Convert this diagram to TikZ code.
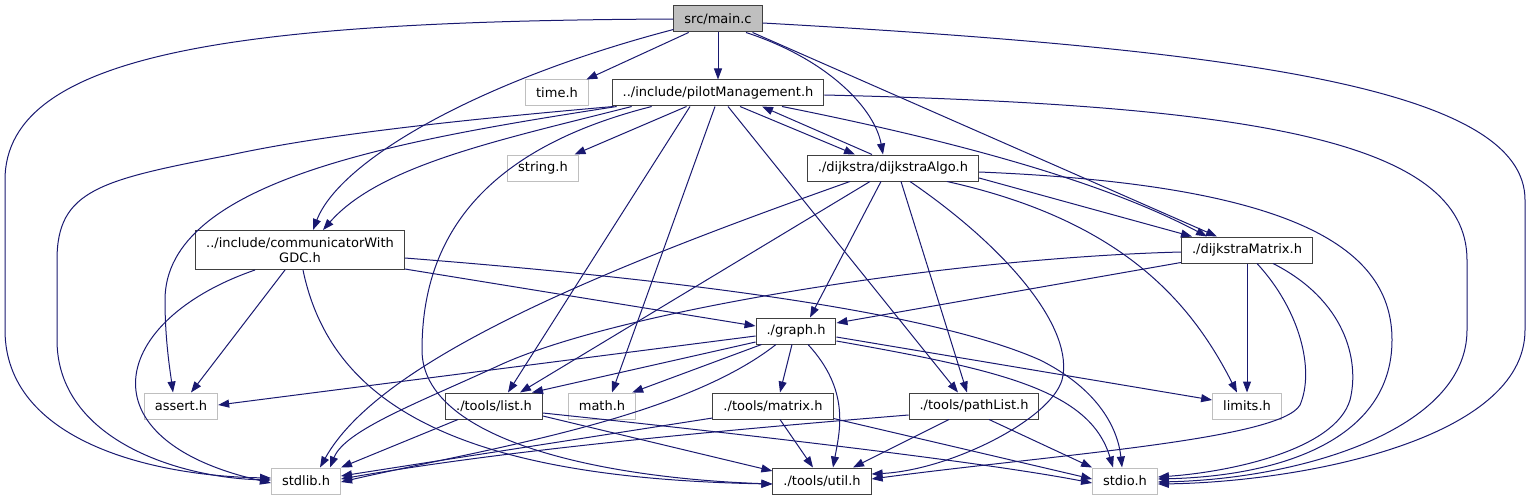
\documentclass[tikz,border=0pt]{standalone}
\usepackage{fontspec}
\setmainfont{DejaVu Sans}
\usetikzlibrary{arrows.meta}
\definecolor{edge}{HTML}{191970}
\definecolor{frame}{HTML}{404040}
\definecolor{sysgray}{HTML}{BFBFBF}
\tikzset{
  fbox/.style={draw=frame,line width=1pt,fill=white,inner xsep=10.5pt,inner ysep=2pt,minimum height=26pt,align=center,font=\fontsize{13}{15}\selectfont},
  fboxm/.style={fbox,fill=sysgray},
  fboxs/.style={fbox,draw=sysgray},
  dep/.style={-{Triangle[length=11pt,width=8pt]},draw=edge,line width=1pt},
}

\begin{document}
\begin{tikzpicture}[x=1pt,y=-1pt]
  \useasboundingbox (0,0) rectangle (1533,500);
  % files
  \node[fboxm] (main) at (718,19) {src/main.c};
  \node[fboxs] (time) at (557,93) {time.h};
  \node[fbox] (pilot) at (718,93) {../include/pilotManagement.h};
  \node[fboxs] (string) at (543,168) {string.h};
  \node[fbox] (algo) at (893,168) {./dijkstra/dijkstraAlgo.h};
  \node[fbox,minimum height=39pt] (comm) at (300,250) {../include/communicatorWith\\GDC.h};
  \node[fbox] (dmat) at (1247,250) {./dijkstraMatrix.h};
  \node[fbox] (graph) at (796,331) {./graph.h};
  \node[fboxs] (assert) at (181,406) {assert.h};
  \node[fbox] (list) at (494,406) {./tools/list.h};
  \node[fboxs] (math) at (602,406) {math.h};
  \node[fbox] (matrix) at (773,406) {./tools/matrix.h};
  \node[fbox] (pathlist) at (974,406) {./tools/pathList.h};
  \node[fboxs] (limits) at (1247,406) {limits.h};
  \node[fboxs] (stdlib) at (306,481) {stdlib.h};
  \node[fbox] (util) at (822,481) {./tools/util.h};
  \node[fboxs] (stdio) at (1125,481) {stdio.h};

  % src/main.c
  \draw[dep] (main.west) .. controls (250,21) and (5,50) .. (5,180) -- (5,330) .. controls (5,440) and (150,476) .. ([yshift=3pt]stdlib.west);
  \draw[dep] (main) -- (time);
  \draw[dep] (main) -- (pilot);
  \draw[dep] ([yshift=3pt]main.south west) .. controls (480,80) and (340,160) .. ([xshift=13pt]comm.north);
  \draw[dep] ([xshift=28pt]main.south) .. controls (830,60) and (875,110) .. ([xshift=-10pt]algo.north);
  \draw[dep] ([xshift=-10pt]main.south east) -- ([xshift=-30pt]dmat.north);
  \draw[dep] ([yshift=-4pt]main.east) .. controls (1250,50) and (1525,90) .. (1525,200) -- (1525,330) .. controls (1525,440) and (1300,482) .. ([yshift=-3pt]stdio.east);

  % ../include/pilotManagement.h
  \draw[dep] ([xshift=2pt]pilot.south west) .. controls (400,125) and (300,140) .. (230,155) .. controls (100,180) and (57,190) .. (57,260) -- (57,340) .. controls (57,440) and (180,478) .. ([yshift=1pt]stdlib.west);
  \draw[dep] ([xshift=5pt]pilot.south west) .. controls (400,140) and (165,180) .. (165,300) .. controls (165,340) and (170,370) .. ([xshift=-8pt]assert.north);
  \draw[dep] ([xshift=20pt]pilot.south west) .. controls (500,140) and (380,165) .. ([xshift=23pt]comm.north);
  \draw[dep] ([xshift=40pt]pilot.south west) .. controls (480,150) and (422,240) .. (422,350) .. controls (422,440) and (600,478) .. ([yshift=-3pt]util.west);
  \draw[dep] (pilot) -- (string);
  \draw[dep] ([xshift=-28pt]pilot.south) -- ([xshift=14pt]list.north);
  \draw[dep] ([xshift=-3pt]pilot.south) -- ([xshift=10pt]math.north);
  \draw[dep] ([xshift=10pt]pilot.south) -- ([xshift=-16pt]pathlist.north);
  \draw[dep] ([xshift=22pt]pilot.south) -- ([xshift=-38pt]algo.north);
  \draw[dep] ([xshift=64pt]pilot.south) .. controls (950,140) and (1100,180) .. ([xshift=-40pt]dmat.north);
  \draw[dep] ([yshift=-2pt]pilot.east) .. controls (1250,105) and (1467,140) .. (1467,260) -- (1467,330) .. controls (1467,430) and (1300,479) .. ([yshift=-1pt]stdio.east);

  % ../include/communicatorWithGDC.h
  \draw[dep] ([xshift=-15pt]comm.south) -- ([xshift=10pt]assert.north);
  \draw[dep] ([xshift=-45pt]comm.south) .. controls (110,320) and (80,440) .. ([yshift=-2pt]stdlib.west);
  \draw[dep] ([xshift=3pt]comm.south) .. controls (330,400) and (450,478) .. ([yshift=-3pt]util.west);
  \draw[dep] ([yshift=1pt]comm.south east) -- ([yshift=5pt]graph.west);
  \draw[dep] ([yshift=-8pt]comm.east) .. controls (750,285) and (950,320) .. (1040,360) .. controls (1100,390) and (1118,430) .. ([xshift=-3pt]stdio.north);

  % ./dijkstra/dijkstraAlgo.h
  \draw[dep] ([xshift=-21pt]algo.north) -- ([xshift=44pt]pilot.south);
  \draw[dep] ([yshift=-10pt]algo.east) -- ([xshift=-55pt]dmat.north);
  \draw[dep] ([xshift=-12pt]algo.south) -- ([xshift=14pt]graph.north);
  \draw[dep] ([xshift=-23pt]algo.south) -- ([xshift=26pt]list.north);
  \draw[dep] ([xshift=8pt]algo.south) -- ([xshift=-7pt]pathlist.north);
  \draw[dep] ([xshift=-43pt]algo.south) .. controls (600,270) and (380,360) .. ([xshift=14pt]stdlib.north);
  \draw[dep] ([xshift=17pt]algo.south) .. controls (1010,250) and (1075,330) .. (1062,380) .. controls (1050,420) and (950,470) .. ([yshift=7pt]util.east);
  \draw[dep] ([xshift=54pt]algo.south) .. controls (1120,220) and (1190,300) .. ([xshift=-10pt]limits.north);
  \draw[dep] ([yshift=-4pt]algo.east) .. controls (1300,185) and (1392,250) .. (1392,340) .. controls (1392,440) and (1280,476) .. ([yshift=2pt]stdio.east);

  % ./dijkstraMatrix.h
  \draw[dep] ([yshift=1pt]dmat.south west) -- ([yshift=8pt]graph.east);
  \draw[dep] (dmat) -- (limits);
  \draw[dep] ([yshift=-2pt]dmat.west) .. controls (950,258) and (620,310) .. (500,365) .. controls (420,402) and (345,430) .. ([xshift=24pt]stdlib.north);
  \draw[dep] ([xshift=10pt]dmat.south) .. controls (1300,310) and (1315,370) .. (1300,405) .. controls (1280,440) and (1050,455) .. ([yshift=2pt]util.east);
  \draw[dep] ([xshift=26pt]dmat.south) .. controls (1345,300) and (1360,360) .. (1350,400) .. controls (1335,450) and (1230,472) .. ([yshift=4pt]stdio.east);

  % ./graph.h
  \draw[dep] ([yshift=-5pt]graph.west) -- ([yshift=1pt]assert.east);
  \draw[dep] ([yshift=-11pt]graph.west) -- ([xshift=38pt]list.north);
  \draw[dep] ([xshift=6pt]graph.south west) -- ([xshift=-4pt]math.north east);
  \draw[dep] ([xshift=-4pt]graph.south) -- ([xshift=7pt]matrix.north);
  \draw[dep] ([xshift=12pt]graph.south) .. controls (850,390) and (840,430) .. ([xshift=11pt]util.north);
  \draw[dep] ([xshift=-20pt]graph.south) .. controls (680,420) and (480,450) .. ([yshift=-1pt]stdlib.east);
  \draw[dep] ([yshift=-10pt]graph.east) .. controls (1000,370) and (1090,390) .. ([xshift=-12pt]stdio.north);
  \draw[dep] ([yshift=-6pt]graph.east) -- ([yshift=6pt]limits.west);

  % ./tools/list.h
  \draw[dep] ([xshift=-36pt]list.south) -- (stdlib.north east);
  \draw[dep] ([yshift=-10pt]list.east) -- ([yshift=10pt]util.west);
  \draw[dep] ([yshift=-7pt]list.east) .. controls (800,440) and (1000,465) .. ([yshift=-2pt]stdio.west);

  % ./tools/matrix.h
  \draw[dep] ([yshift=-12pt]matrix.west) -- ([yshift=5pt]stdlib.east);
  \draw[dep] ([xshift=7pt]matrix.south) -- ([xshift=-9pt]util.north);
  \draw[dep] ([yshift=1pt]matrix.south east) -- ([yshift=2pt]stdio.west);

  % ./tools/pathList.h
  \draw[dep] ([yshift=-9pt]pathlist.west) .. controls (600,440) and (450,460) .. ([yshift=2pt]stdlib.east);
  \draw[dep] ([xshift=-25pt]pathlist.south) -- ([xshift=31pt]util.north);
  \draw[dep] ([xshift=15pt]pathlist.south) -- (stdio.north west);
\end{tikzpicture}
\end{document}
